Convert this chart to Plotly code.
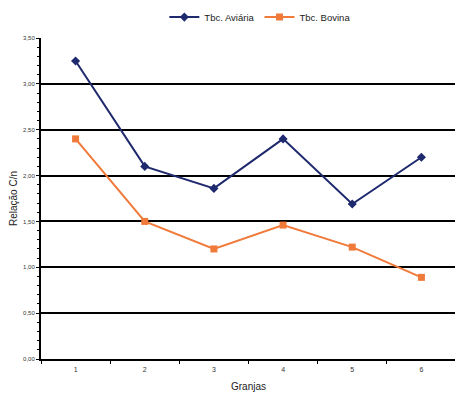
import plotly.graph_objects as go

granjas = ["1", "2", "3", "4", "5", "6"]
aviaria = [3.25, 2.10, 1.86, 2.40, 1.69, 2.20]
bovina = [2.40, 1.50, 1.20, 1.46, 1.22, 0.89]

fig = go.Figure()
fig.add_trace(go.Scatter(x=granjas, y=aviaria, mode="lines+markers", name="Tbc. Aviária",
                         line=dict(color="#1f2a6e", width=2),
                         marker=dict(symbol="diamond", size=7, color="#1f2a6e")))
fig.add_trace(go.Scatter(x=granjas, y=bovina, mode="lines+markers", name="Tbc. Bovina",
                         line=dict(color="#f07a3a", width=2),
                         marker=dict(symbol="square", size=7, color="#f07a3a")))

fig.update_layout(
    width=463, height=396,
    margin=dict(l=33, r=15, t=30, b=45, autoexpand=False),
    paper_bgcolor="white", plot_bgcolor="white",
    separators=",.",
    font=dict(family="Liberation Sans, Arial, sans-serif", color="#333"),
    legend=dict(orientation="h", x=0.545, y=0.977, xref="container", yref="container",
                xanchor="center", yanchor="middle",
                font=dict(size=9.5, color="#222"), bgcolor="rgba(0,0,0,0)",
                itemwidth=30, tracegroupgap=0),
    xaxis=dict(
        type="category", showgrid=False, showline=True, linecolor="black", linewidth=2,
        ticks="outside", ticklen=3, tickcolor="black", tickson="boundaries",
        tickfont=dict(size=7, color="#333"), automargin=False, ticklabelstandoff=3,
        title=dict(text="Granjas", font=dict(size=10, color="#222"), standoff=11),
        range=[-0.5, 5.5],
    ),
    yaxis=dict(
        range=[0, 3.5], dtick=0.5, tickformat=".2f",
        showgrid=True, gridcolor="black", gridwidth=1.5,
        showline=True, linecolor="black", linewidth=2,
        ticks="outside", ticklen=3, tickcolor="black", automargin=False,
        minor=dict(dtick=0.1, ticks="outside", ticklen=2, tickcolor="black", showgrid=False),
        tickfont=dict(size=6, color="#333"), zeroline=False,
        title=dict(text="Relação C/n", font=dict(size=10, color="#222"), standoff=9),
    ),
)

fig.write_html("out.html")
